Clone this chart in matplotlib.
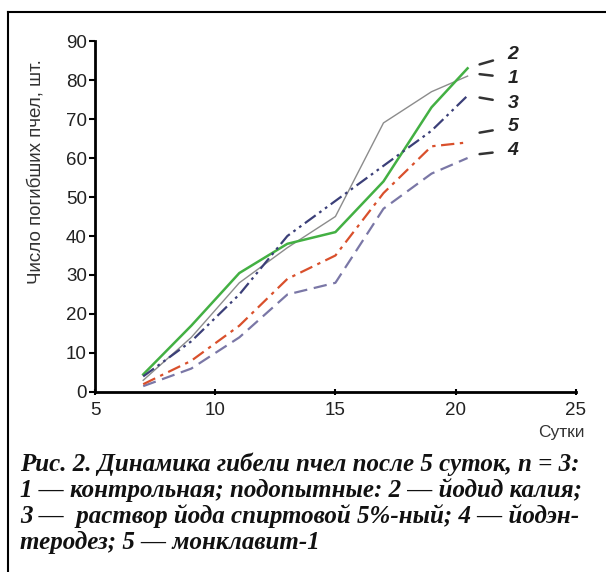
import matplotlib.pyplot as plt
from matplotlib.lines import Line2D

# days of observation
days = [7, 9, 11, 13, 15, 17, 19, 20.5]

# dead bees per group
control_1 = [3, 14, 28, 37, 45, 69, 77, 81]
potassium_iodide_2 = [4.5, 17, 30.5, 38, 41, 54, 73, 83]
iodine_solution_3 = [4, 13, 25, 40, 49, 58, 67, 76]
iodenterodez_4 = [1.5, 6, 14, 25, 28, 47, 56, 60]
monklavit_5 = [2, 8, 17, 29, 35, 51, 63, 64]

labels = ["2", "1", "3", "5", "4"]
label_y = [86.5, 80.5, 74, 68, 62]
leader_end_y = [84, 81.5, 75.5, 66.5, 61]

x_ticks = [5, 10, 15, 20, 25]
y_ticks = [0, 10, 20, 30, 40, 50, 60, 70, 80, 90]

caption = ("Рис. 2. Динамика гибели пчел после 5 суток, n = 3:\n"
            "1 — контрольная; подопытные: 2 — йодид калия;\n"
            "3 —  раствор йода спиртовой 5%-ный; 4 — йодэн-\n"
            "теродез; 5 — монклавит-1")

fig = plt.figure(figsize=(6.06, 5.72), dpi=100)
ax = fig.add_axes([0.157, 0.3147, 0.793, 0.6136])

ax.plot(days, control_1, color="#8c8c8c", lw=1.0)
ax.plot(days, potassium_iodide_2, color="#43b043", lw=1.8)
ax.plot(days, iodine_solution_3, color="#3b3f78", lw=1.6, dashes=[6, 2, 1.2, 2, 1.2, 2])
ax.plot(days, iodenterodez_4, color="#7a77a6", lw=1.6, dashes=[6, 3])
ax.plot(days, monklavit_5, color="#d9502c", lw=1.6, dashes=[6, 2.5, 1.5, 2.5])

# labels with little leader strokes at the right end
for lab, ly, ey in zip(labels, label_y, leader_end_y):
    ax.annotate(lab, xy=(21.0, ey), xytext=(22.4, ly), ha="center", va="center",
                fontsize=14, fontweight="bold", style="italic", color="#222222",
                family="Liberation Sans", annotation_clip=False,
                arrowprops=dict(arrowstyle="-", color="#333333", lw=1.8,
                                shrinkA=9, shrinkB=0))

ax.set_xlim(5, 25)
ax.set_ylim(0, 90)
ax.set_xticks(x_ticks)
ax.set_yticks(y_ticks)
for s in ["top", "right"]:
    ax.spines[s].set_visible(False)
for s in ["left", "bottom"]:
    ax.spines[s].set_linewidth(2)
ax.tick_params(axis="y", direction="out", length=4, width=1.5, labelsize=13.5, pad=2)
ax.tick_params(axis="x", direction="inout", length=5, width=1.5, labelsize=13.5, pad=5)
for t in ax.get_xticklabels() + ax.get_yticklabels():
    t.set_family("Liberation Sans")
    t.set_color("#222222")

fig.text(36 / 606, 1 - 172 / 572, "Число погибших пчел, шт.", rotation=90, ha="center",
         va="center", fontsize=13.5, family="Liberation Sans", color="#333333")
fig.text(585 / 606, 1 - 432 / 572, "Сутки", ha="right", va="center", fontsize=12.5,
         family="Liberation Sans", color="#333333")
fig.text(20 / 606, 1 - 452 / 572, caption, ha="left", va="top", fontsize=18,
         family="Liberation Serif", style="italic", fontweight="bold",
         linespacing=1.13, color="#111111")

# frame lines on the left and top
fig.add_artist(Line2D([8 / 606, 8 / 606], [0, 1 - 12 / 572], color="black", lw=1.5,
                      transform=fig.transFigure))
fig.add_artist(Line2D([8 / 606, 1], [1 - 12 / 572, 1 - 12 / 572], color="black", lw=1.5,
                      transform=fig.transFigure))

fig.savefig("out.png", dpi=100)
